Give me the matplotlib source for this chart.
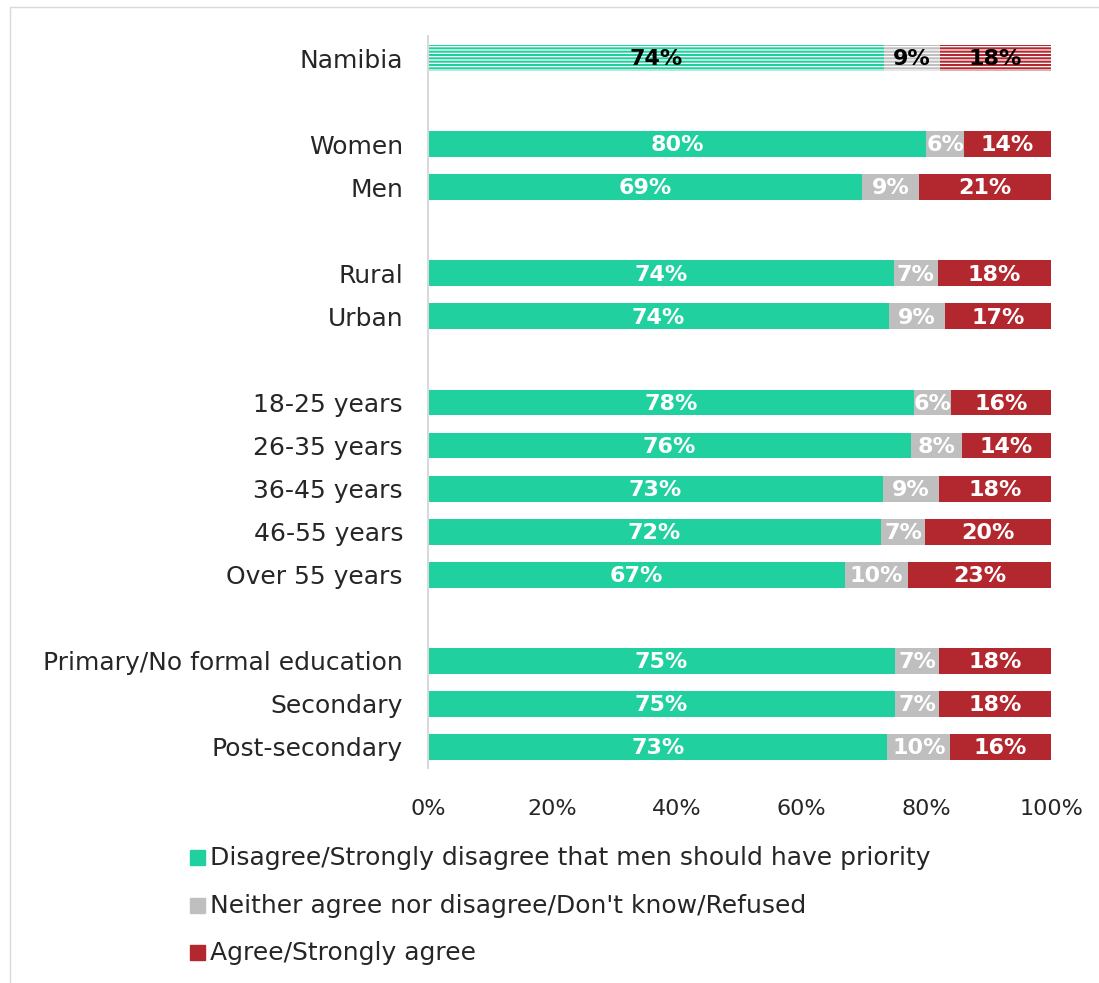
import matplotlib
matplotlib.use("Agg")
import matplotlib.pyplot as plt
from matplotlib.patches import Rectangle
from matplotlib.lines import Line2D
import numpy as np

plt.rcParams['font.family'] = ['DejaVu Sans']
plt.rcParams['hatch.linewidth'] = 1.5

categories = ["Namibia", "Women", "Men", "Rural", "Urban",
              "18-25 years", "26-35 years", "36-45 years", "46-55 years", "Over 55 years",
              "Primary/No formal education", "Secondary", "Post-secondary"]
disagree = [74, 80, 69, 74, 74, 78, 76, 73, 72, 67, 75, 75, 73]
neither = [9, 6, 9, 7, 9, 6, 8, 9, 7, 10, 7, 7, 10]
agree = [18, 14, 21, 18, 17, 16, 14, 18, 20, 23, 18, 18, 16]
series_names = ["Disagree/Strongly disagree that men should have priority",
                "Neither agree nor disagree/Don't know/Refused",
                "Agree/Strongly agree"]
xticks = [0, 20, 40, 60, 80, 100]
positions = [0, 2, 3, 5, 6, 8, 9, 10, 11, 12, 14, 15, 16]

colors = ["#21D09F", "#BFBFBF", "#B3272E"]

fig = plt.figure(figsize=(10.99, 9.83), dpi=100)
ax = fig.add_axes([428/1099, 1-768.5/983, (1051-428)/1099, (768.5-36.5)/983])

data = np.array([disagree, neither, agree], dtype=float)
totals = data.sum(axis=0)
norm = data / totals * 100

left = np.zeros(len(categories))
for s in range(3):
    for i, pos in enumerate(positions):
        w = norm[s, i]
        if i == 0:
            ax.barh(pos, w, left=left[i], height=0.6, color="white",
                    edgecolor=colors[s], hatch="-----", linewidth=0)
            tcol = "black"
        else:
            ax.barh(pos, w, left=left[i], height=0.6, color=colors[s], linewidth=0)
            tcol = "white"
        ax.text(left[i] + w/2, pos + 0.03, f"{int(data[s, i])}%", ha="center", va="center",
                color=tcol, fontsize=16, fontweight="bold")
    left += norm[s]

ax.set_ylim(16.5, -0.5)
ax.set_xlim(0, 100)
ax.set_yticks(positions)
ax.set_yticklabels(categories, fontsize=18, color="#262626")
ax.set_xticks(xticks)
ax.set_xticklabels([f"{v}%" for v in xticks], fontsize=16, color="#262626")
ax.tick_params(axis="y", length=0, pad=18)
ax.tick_params(axis="x", length=0, pad=22)
for sp in ["top", "right", "bottom"]:
    ax.spines[sp].set_visible(False)
ax.spines["left"].set_color("#D9D9D9")
ax.spines["left"].set_linewidth(1.5)

# legend
leg_y = [858, 906, 953]
for s in range(3):
    y = 1 - leg_y[s]/983
    fig.patches.append(Rectangle((190/1099, y - 7/983), 15/1099, 15/983,
                                 transform=fig.transFigure, color=colors[s]))
    fig.text(210/1099, y, series_names[s], fontsize=18, va="center", ha="left",
             color="#262626")

# outer frame
fig.lines.append(Line2D([10/1099, 10/1099, 1], [0, 1-7/983, 1-7/983],
                        transform=fig.transFigure, color="#D9D9D9", linewidth=1))

fig.savefig("out.png", dpi=100)
